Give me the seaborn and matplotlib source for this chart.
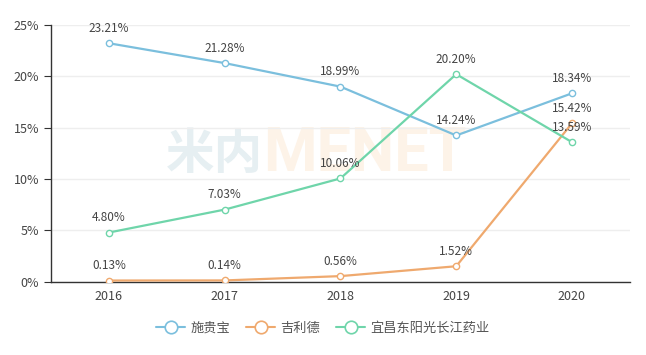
import matplotlib
matplotlib.use("Agg")
import matplotlib.pyplot as plt
from matplotlib.lines import Line2D
import seaborn as sns
import pandas as pd

years = ["2016", "2017", "2018", "2019", "2020"]
shi_gui_bao = [23.21, 21.28, 18.99, 14.24, 18.34]
ji_li_de = [0.13, 0.14, 0.56, 1.52, 15.42]
yi_chang = [4.80, 7.03, 10.06, 20.20, 13.59]
series_names = ["施贵宝", "吉利德", "宜昌东阳光长江药业"]
colors = ["#7bbfdd", "#efa96e", "#6fd5aa"]

sns.set_style("white")
plt.rcParams["font.family"] = ["Noto Sans CJK SC", "DejaVu Sans"]

rows = []
for name, vals in zip(series_names, [shi_gui_bao, ji_li_de, yi_chang]):
    for i, v in enumerate(vals):
        rows.append({"pos": i, "year": years[i], "value": v, "series": name})
df = pd.DataFrame(rows)

fig = plt.figure(figsize=(6.46, 3.55), dpi=100)
ax = fig.add_axes([0.079, 0.206, 0.896, 0.724])

# faint watermark behind the data
ax.text(0.407, 0.566, "米内", transform=fig.transFigure, fontsize=35,
        fontweight="bold", color="#e6eff2", ha="right", va="center", zorder=0.5)
ax.text(0.407, 0.566, "MENET", transform=fig.transFigure, fontsize=44,
        fontweight="bold", color="#fdf3e8", ha="left", va="center", zorder=0.5,
        family="Roboto")

sns.lineplot(data=df, x="pos", y="value", hue="series", palette=colors,
             hue_order=series_names, ax=ax, linewidth=1.6, marker="o",
             markersize=4.5, markerfacecolor="white", markeredgewidth=1.0,
             legend=False, zorder=3)
for line, c in zip(ax.lines, colors):
    line.set_markeredgecolor(c)

for name in series_names:
    sub = df[df["series"] == name]
    for _, r in sub.iterrows():
        ax.annotate(f"{r['value']:.2f}%", (r["pos"], r["value"]),
                    xytext=(0, 6), textcoords="offset points",
                    ha="center", va="bottom", fontsize=8.5, color="#444444",
                    zorder=5)

ax.set_xlim(-0.5, 4.5)
ax.set_ylim(0, 25)
ax.set_yticks([0, 5, 10, 15, 20, 25])
ax.set_yticklabels([f"{t}%" for t in [0, 5, 10, 15, 20, 25]])
ax.set_xticks([-0.5, 0.5, 1.5, 2.5, 3.5, 4.5])
ax.set_xticklabels([])
ax.set_xticks(range(len(years)), minor=True)
ax.set_xticklabels(years, minor=True)
ax.tick_params(axis="x", which="major", length=5, color="#333333", direction="out")
ax.tick_params(axis="x", which="minor", length=0, labelsize=9, colors="#444444", pad=6)
ax.tick_params(axis="y", length=5, color="#333333", labelsize=9, labelcolor="#444444", left=True)
ax.grid(axis="y", color="#eeeeee", linewidth=1)
ax.set_axisbelow(True)
for s in ["top", "right"]:
    ax.spines[s].set_visible(False)
for s in ["left", "bottom"]:
    ax.spines[s].set_color("#333333")
    ax.spines[s].set_linewidth(1)
ax.set_xlabel("")
ax.set_ylabel("")

handles = [Line2D([0], [0], color=c, linewidth=1.5, marker="o", markersize=9,
                  markerfacecolor="white", markeredgecolor=c, markeredgewidth=1.2)
           for c in colors]
fig.legend(handles, series_names, loc="center", bbox_to_anchor=(0.5, 0.076),
           ncol=3, frameon=False, fontsize=9.5, handlelength=2.2,
           columnspacing=1.2, handletextpad=0.4, labelcolor="#555555")

fig.savefig("out.png", dpi=100)
